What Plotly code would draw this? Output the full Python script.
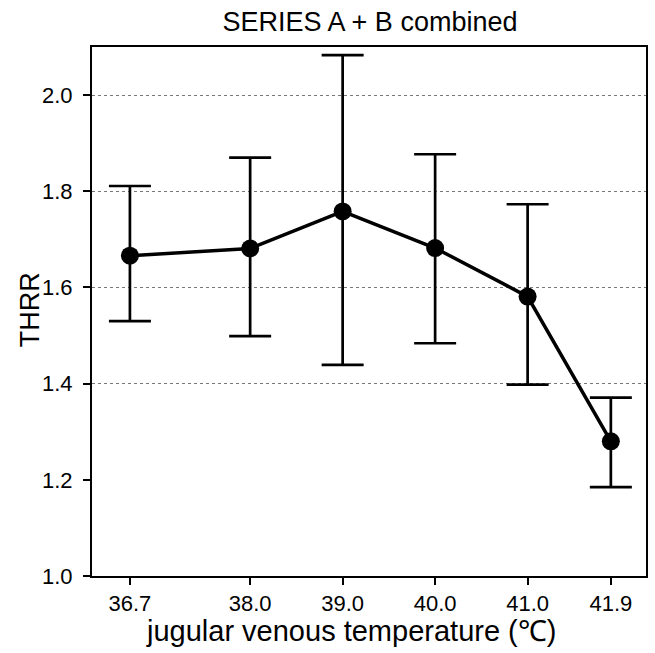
import plotly.graph_objects as go

temperature = [36.7, 38.0, 39.0, 40.0, 41.0, 41.9]
tick_labels = ["36.7", "38.0", "39.0", "40.0", "41.0", "41.9"]
thrr_mean = [1.666, 1.681, 1.758, 1.682, 1.581, 1.280]
err_upper = [0.145, 0.189, 0.325, 0.195, 0.192, 0.091]
err_lower = [0.136, 0.182, 0.319, 0.198, 0.183, 0.095]
grid_values = [1.4, 1.6, 1.8, 2.0]
y_ticks = [1.0, 1.2, 1.4, 1.6, 1.8, 2.0]
y_tick_labels = ["1.0", "1.2", "1.4", "1.6", "1.8", "2.0"]

FONT = "Liberation Sans"
L, R, T, B = 92, 648, 47, 576  # plot area in pixels
PW, PH = R - L, B - T

fig = go.Figure()

# invisible trace on secondary axis to host the partial grid
fig.add_trace(go.Scatter(x=[temperature[0]], y=[grid_values[0]], yaxis="y2",
                         mode="markers", marker=dict(opacity=0), showlegend=False,
                         hoverinfo="skip"))

fig.add_trace(go.Scatter(
    x=temperature, y=thrr_mean, mode="lines+markers",
    line=dict(color="black", width=3.5),
    marker=dict(color="black", size=18),
    error_y=dict(type="data", symmetric=False, array=err_upper, arrayminus=err_lower,
                 color="black", thickness=2.7, width=21),
    showlegend=False,
))

fig.update_layout(
    width=655, height=653,
    margin=dict(l=L, r=655 - R, t=T, b=653 - B),
    paper_bgcolor="white", plot_bgcolor="white",
    font=dict(family=FONT, color="black"),
    title=dict(text="SERIES A + B combined", x=(L + R) / 2 / 655, xanchor="center",
               y=1 - 22 / 653, yanchor="middle", font=dict(size=27, family=FONT, color="black")),
    xaxis=dict(
        range=[36.29, 42.28], tickvals=temperature, ticktext=tick_labels,
        showgrid=False, zeroline=False,
        showline=True, linecolor="black", linewidth=2, mirror=True,
        ticks="outside", ticklen=7, tickwidth=2, tickcolor="black",
        tickfont=dict(size=22, family=FONT),
    ),
    yaxis=dict(
        range=[1.0, 2.1], tickvals=y_ticks, ticktext=y_tick_labels,
        showgrid=False, zeroline=False,
        showline=True, linecolor="black", linewidth=2, mirror=True,
        ticks="outside", ticklen=7, tickwidth=2, tickcolor="black",
        tickfont=dict(size=22, family=FONT), ticklabelstandoff=6,
    ),
    yaxis2=dict(
        range=[1.0, 2.1], overlaying="y", side="left", tickvals=grid_values,
        showticklabels=False, ticks="", showgrid=True, gridcolor="#777777",
        griddash="dot", gridwidth=1, zeroline=False, showline=False,
    ),
    annotations=[
        dict(text="jugular venous temperature (℃)", xref="paper", yref="paper",
             x=(352 - L) / PW, y=(B - 631) / PH, xanchor="center", yanchor="middle",
             showarrow=False, font=dict(size=29, family=FONT, color="black")),
        dict(text="THRR", xref="paper", yref="paper", textangle=-90,
             x=(30 - L) / PW, y=(B - 310) / PH, xanchor="center", yanchor="middle",
             showarrow=False, font=dict(size=27, family=FONT, color="black")),
    ],
)

fig.write_html("out.html", config={"displayModeBar": False},
               post_script="document.body.style.margin='0';document.body.style.overflow='hidden';")
